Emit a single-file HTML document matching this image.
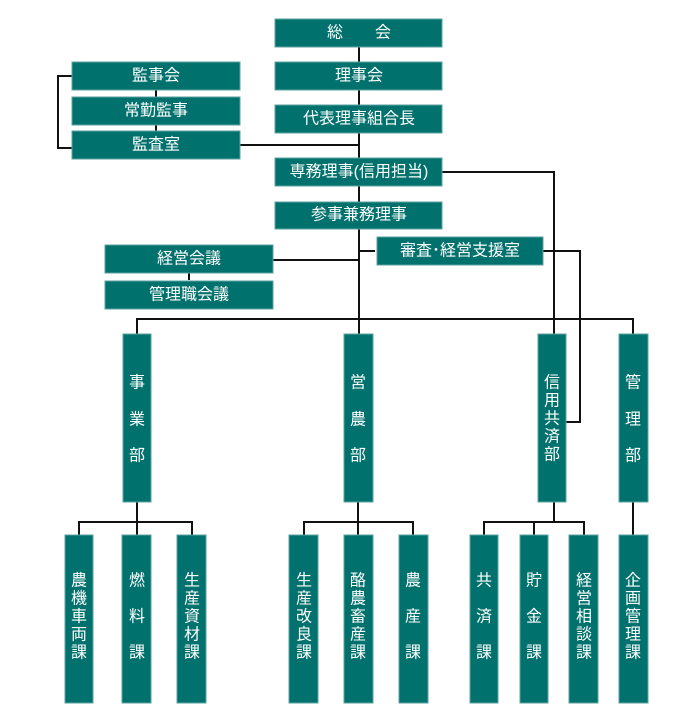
<!DOCTYPE html>
<html><head><meta charset="utf-8"><style>
html,body{margin:0;padding:0;background:#fff;}
svg{display:block}
text{font-family:"Liberation Sans","Noto Sans CJK JP",sans-serif;font-size:16px;fill:#fff;text-anchor:middle;dominant-baseline:central}
.b{fill:#00716d;stroke:#5aa3a0;stroke-width:1}
.l{stroke:#111;stroke-width:2;fill:none}
</style></head><body>
<svg width="700" height="720" viewBox="0 0 700 720" xmlns="http://www.w3.org/2000/svg">
<path class="l" d="M359 47V334"/>
<path class="l" d="M240 145H359"/>
<path class="l" d="M72 76H58V148H72"/>
<path class="l" d="M156 90V131"/>
<path class="l" d="M442 172H554V334"/>
<path class="l" d="M543 251H580V422H566"/>
<path class="l" d="M359 251H375"/>
<path class="l" d="M273 260H359"/>
<path class="l" d="M189 273V280"/>
<path class="l" d="M137 334V319H633V334"/>
<path class="l" d="M137 502V522M79 535V522H192V535M137 522V535"/>
<path class="l" d="M358 502V535M304 535V522H413V535"/>
<path class="l" d="M554 502V522M484 535V522H584V535M534 522V535"/>
<path class="l" d="M633 502V535"/>
<rect class="b" x="275" y="19" width="167" height="28"/><text x="359" y="33">総　　会</text>
<rect class="b" x="275" y="62" width="167" height="28"/><text x="359" y="76">理事会</text>
<rect class="b" x="275" y="105" width="167" height="28"/><text x="359" y="119">代表理事組合長</text>
<rect class="b" x="275" y="158" width="167" height="28"/><text x="359" y="172">専務理事(信用担当)</text>
<rect class="b" x="275" y="202" width="167" height="27"/><text x="359" y="215">参事兼務理事</text>
<rect class="b" x="72" y="62" width="168" height="28"/><text x="156" y="76">監事会</text>
<rect class="b" x="72" y="97" width="168" height="28"/><text x="156" y="111">常勤監事</text>
<rect class="b" x="72" y="131" width="168" height="28"/><text x="156" y="145">監査室</text>
<rect class="b" x="377" y="237" width="166" height="28"/><text x="460" y="251">審査･経営支援室</text>
<rect class="b" x="105" y="245" width="168" height="28"/><text x="189" y="259">経営会議</text>
<rect class="b" x="105" y="281" width="168" height="28"/><text x="189" y="295">管理職会議</text>
<rect class="b" x="123" y="334" width="28" height="168"/>
<text x="137" y="383">事</text><text x="137" y="420">業</text><text x="137" y="456">部</text>
<rect class="b" x="344" y="334" width="29" height="168"/>
<text x="358" y="383">営</text><text x="358" y="420">農</text><text x="358" y="456">部</text>
<rect class="b" x="538" y="334" width="28" height="168"/>
<text x="552" y="383">信</text><text x="552" y="401">用</text><text x="552" y="419">共</text><text x="552" y="437">済</text><text x="552" y="455">部</text>
<rect class="b" x="619" y="334" width="29" height="168"/>
<text x="633" y="383">管</text><text x="633" y="420">理</text><text x="633" y="456">部</text>
<rect class="b" x="65" y="535" width="28" height="168"/>
<text x="79" y="581">農</text><text x="79" y="599">機</text><text x="79" y="617">車</text><text x="79" y="635">両</text><text x="79" y="653">課</text>
<rect class="b" x="122" y="535" width="29" height="168"/>
<text x="137" y="581">燃</text><text x="137" y="617">料</text><text x="137" y="653">課</text>
<rect class="b" x="177" y="535" width="29" height="168"/>
<text x="192" y="581">生</text><text x="192" y="599">産</text><text x="192" y="617">資</text><text x="192" y="635">材</text><text x="192" y="653">課</text>
<rect class="b" x="289" y="535" width="29" height="168"/>
<text x="304" y="581">生</text><text x="304" y="599">産</text><text x="304" y="617">改</text><text x="304" y="635">良</text><text x="304" y="653">課</text>
<rect class="b" x="344" y="535" width="29" height="168"/>
<text x="358" y="581">酪</text><text x="358" y="599">農</text><text x="358" y="617">畜</text><text x="358" y="635">産</text><text x="358" y="653">課</text>
<rect class="b" x="399" y="535" width="29" height="168"/>
<text x="413" y="581">農</text><text x="413" y="617">産</text><text x="413" y="653">課</text>
<rect class="b" x="470" y="535" width="28" height="168"/>
<text x="484" y="581">共</text><text x="484" y="617">済</text><text x="484" y="653">課</text>
<rect class="b" x="520" y="535" width="28" height="168"/>
<text x="534" y="581">貯</text><text x="534" y="617">金</text><text x="534" y="653">課</text>
<rect class="b" x="569" y="535" width="29" height="168"/>
<text x="584" y="581">経</text><text x="584" y="599">営</text><text x="584" y="617">相</text><text x="584" y="635">談</text><text x="584" y="653">課</text>
<rect class="b" x="619" y="535" width="29" height="168"/>
<text x="633" y="581">企</text><text x="633" y="599">画</text><text x="633" y="617">管</text><text x="633" y="635">理</text><text x="633" y="653">課</text>
</svg>
</body></html>
